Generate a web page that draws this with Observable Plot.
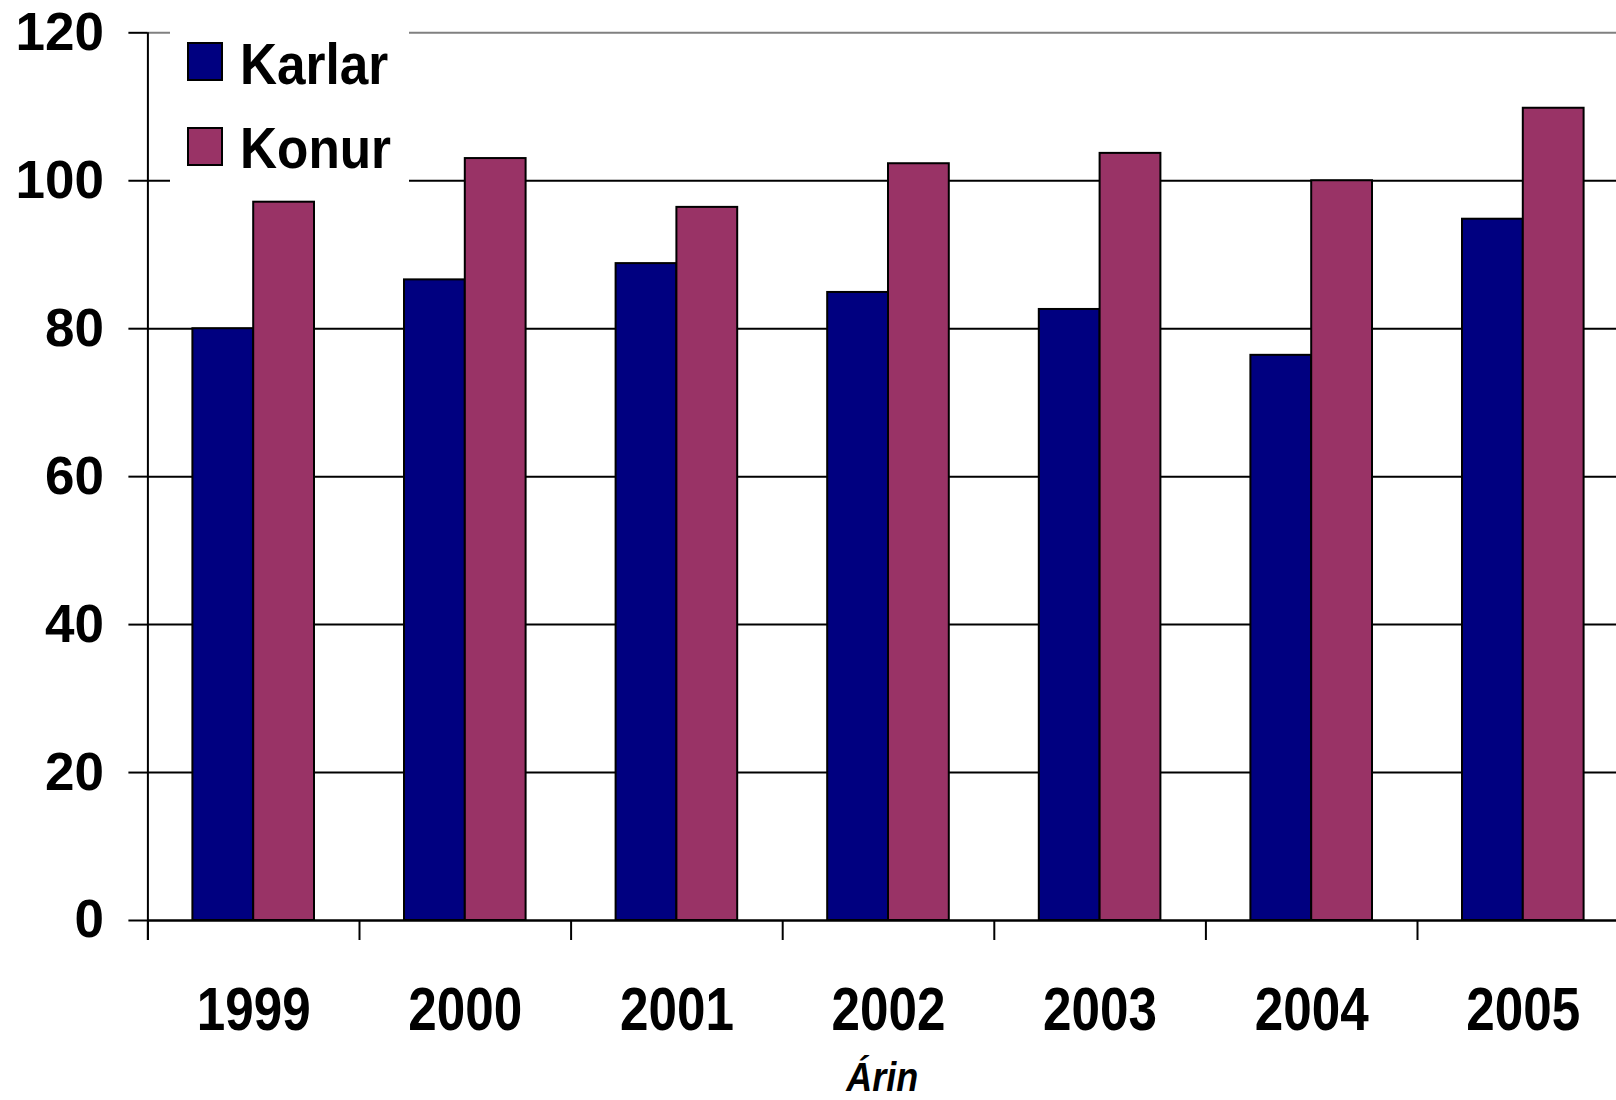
<!DOCTYPE html>
<html>
<head>
<meta charset="utf-8">
<script src="https://cdn.jsdelivr.net/npm/d3@7"></script>
<script src="https://cdn.jsdelivr.net/npm/@observablehq/plot@0.6"></script>
<style>
  html, body { margin: 0; padding: 0; background: #fff; overflow: hidden; }
  #chart { width: 1616px; height: 1100px; }
</style>
</head>
<body>
<div id="chart"></div>
<script>
// ---- data ----
const years = ["1999", "2000", "2001", "2002", "2003", "2004", "2005"];
const series = ["Karlar", "Konur"];
const karlar = [80.0, 86.6, 88.8, 84.9, 82.6, 76.4, 94.8];
const konur = [97.1, 103.0, 96.4, 102.3, 103.7, 100.0, 109.8];
const colors = ["#000080", "#993366"];
const yTicks = [0, 20, 40, 60, 80, 100, 120];
const xTitle = "Árin";

const karlarData = years.map((y, i) => ({year: y, series: series[0], value: karlar[i]}));
const konurData = years.map((y, i) => ({year: y, series: series[1], value: konur[i]}));

// ---- layout ----
const W = 1616, H = 1100;
const mL = 147.4, mT = 32.3, mB = 180;
const xRange = [mL, 1628.6];
const step = (xRange[1] - xRange[0]) / years.length;
const barW = 60.8;
const outer = step / 2 - barW;
const font = "'Liberation Sans', Arial, Helvetica, sans-serif";

const chart = Plot.plot({
  width: W, height: H,
  marginLeft: mL, marginRight: 0, marginTop: mT, marginBottom: mB,
  style: {fontFamily: font, fontWeight: "bold", color: "#000", background: "#fff"},
  x: {type: "band", domain: years, range: xRange, padding: 0, round: false, label: null},
  y: {domain: [0, 120], ticks: yTicks, label: null},
  color: {domain: series, range: colors},
  marks: [
    Plot.ruleY(yTicks.filter(v => v > 0 && v < 120), {stroke: "#000", strokeWidth: 2}),
    Plot.ruleY(yTicks.filter(v => v === 120), {stroke: "#808080", strokeWidth: 2}),
    Plot.barY(karlarData, {x: "year", y: "value", fill: "series", stroke: "#000", strokeWidth: 2,
      insetLeft: outer, insetRight: step / 2}),
    Plot.barY(konurData, {x: "year", y: "value", fill: "series", stroke: "#000", strokeWidth: 2,
      insetLeft: step / 2, insetRight: outer}),
    Plot.ruleY([0], {stroke: "#000", strokeWidth: 2.5}),
    Plot.ruleX(years, {x: d => d, dx: -step / 2, y1: 0, y2: 0, insetBottom: -20, stroke: "#000", strokeWidth: 2}),
    Plot.ruleX(years.slice(0, 1), {x: d => d, dx: -step / 2, y1: 120, y2: 0, insetBottom: -20, stroke: "#000", strokeWidth: 2}),
    Plot.axisY({ticks: yTicks, tickSize: 19, tickPadding: 25, fontSize: 53, strokeWidth: 2, tickFormat: d => String(d), label: null}),
    Plot.axisX({tickSize: 0, tickPadding: 66, fontSize: 61, label: null}),
    Plot.text([xTitle], {frameAnchor: "bottom", dy: 170, fontSize: 40, fontStyle: "italic", fontWeight: "bold", fill: "#000"})
  ]
});

document.getElementById("chart").appendChild(chart);

// condense the year labels and the axis title a little, like the original
d3.select(chart).selectAll("g[aria-label='x-axis tick label'] text").each(function() {
  const t = this.getAttribute("transform") || "";
  this.setAttribute("transform", t + " scale(0.84,1)");
});
d3.select(chart).selectAll("text").filter(function() { return this.textContent === xTitle; }).each(function() {
  const t = this.getAttribute("transform") || "";
  this.setAttribute("transform", t + " scale(0.9,1)");
});

// legend inside the plot area
const svg = d3.select(chart);
const lg = svg.append("g").attr("class", "legend");
lg.append("rect").attr("x", 170).attr("y", 22).attr("width", 239).attr("height", 168).attr("fill", "#fff");
const swatchY = [43, 128];
const baseY = [83.5, 168];
series.forEach((s, i) => {
  lg.append("rect").attr("x", 188).attr("y", swatchY[i]).attr("width", 34).attr("height", 37)
    .attr("fill", colors[i]).attr("stroke", "#000").attr("stroke-width", 2);
  lg.append("text").attr("transform", `translate(240,${baseY[i]}) scale(0.9,1)`)
    .attr("text-anchor", "start")
    .attr("font-family", font).attr("font-weight", "bold").attr("font-size", 57).attr("fill", "#000")
    .text(s);
});
</script>
</body>
</html>
